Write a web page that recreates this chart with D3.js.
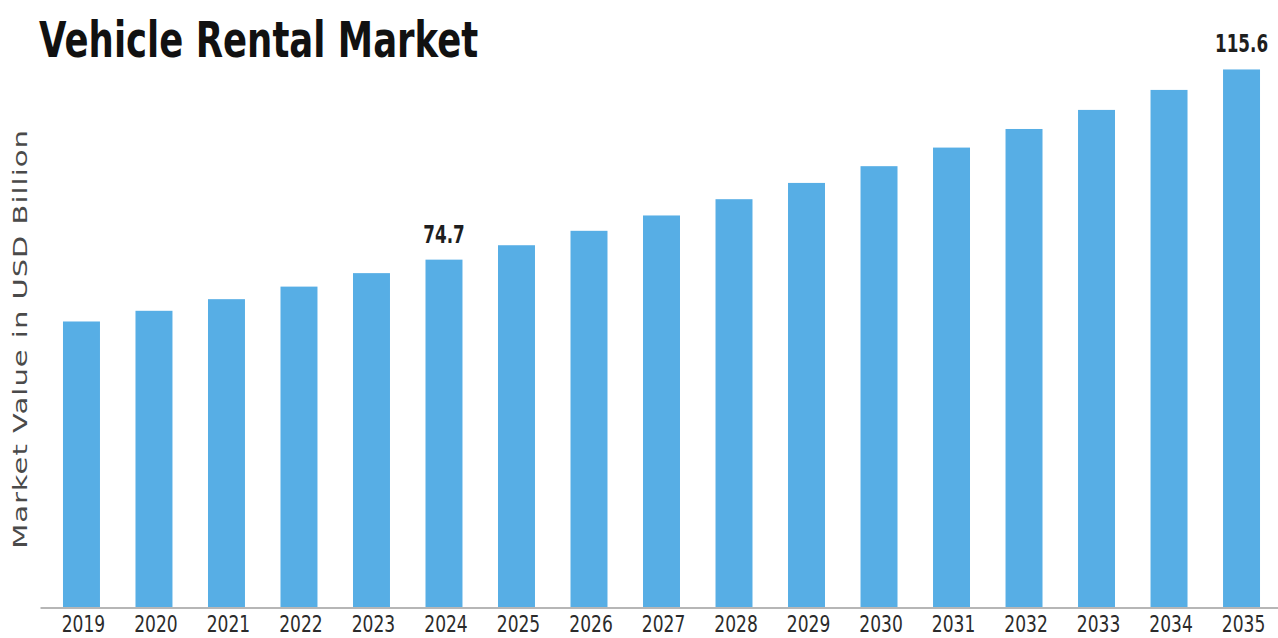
<!DOCTYPE html>
<html>
<head>
<meta charset="utf-8">
<script src="https://cdn.jsdelivr.net/npm/d3@7"></script>
<style>
  html, body { margin: 0; padding: 0; background: #ffffff; }
  svg { display: block; }
</style>
</head>
<body>
<svg id="chart" width="1278" height="638"></svg>
<script>
// Market size by year (USD billion)
const years = ["2019","2020","2021","2022","2023","2024","2025","2026","2027",
               "2028","2029","2030","2031","2032","2033","2034","2035"];
const values = [61.4, 63.7, 66.2, 68.9, 71.8, 74.7, 77.8, 80.9, 84.2,
                87.7, 91.2, 94.8, 98.8, 102.8, 106.9, 111.2, 115.6];
// Years whose value is printed above the bar
const labeledYears = ["2024", "2035"];

const titleText = "Vehicle Rental Market";
const yAxisTitle = "Market Value in USD Billion";

const data = years.map((y, i) => ({ year: y, value: values[i] }));

const svg = d3.select("#chart");
const squeeze = 0.7; // narrow glyph width used for chart text

const x = d3.scaleBand()
  .domain(years)
  .range([40, 1283])
  .paddingInner(0.49)
  .paddingOuter(0.317);

const y = d3.scaleLinear()
  .domain([0, 120])
  .range([607, 49]);

// Bars
svg.append("g")
  .selectAll("rect")
  .data(data)
  .join("rect")
  .attr("x", d => x(d.year))
  .attr("y", d => y(d.value))
  .attr("width", x.bandwidth())
  .attr("height", d => y(0) - y(d.value))
  .attr("fill", "#57aee5");

// Bottom axis with year labels
const xAxis = svg.append("g")
  .attr("transform", `translate(0,${y(0) + 0.5})`)
  .call(d3.axisBottom(x).tickSize(0).tickSizeOuter(0).tickPadding(0));

xAxis.select(".domain")
  .attr("stroke", "#6f6f6f")
  .attr("stroke-width", 1.2);

const yearScale = 0.76;
xAxis.selectAll(".tick text")
  .attr("y", 25)
  .attr("dy", 0)
  .attr("x", 2 / yearScale)
  .attr("transform", `scale(${yearScale},1)`)
  .attr("font-family", "DejaVu Sans, sans-serif")
  .attr("font-size", 22.5)
  .attr("fill", "#2b2b2b");

// Value labels
svg.append("g")
  .selectAll("text")
  .data(data.filter(d => labeledYears.includes(d.year)))
  .join("text")
  .attr("transform", d =>
    `translate(${x(d.year) + x.bandwidth() / 2},${y(d.value) - 17}) scale(${squeeze},1)`)
  .attr("text-anchor", "middle")
  .attr("font-family", "DejaVu Sans, sans-serif")
  .attr("font-weight", "bold")
  .attr("font-size", 24)
  .attr("fill", "#1e1e1e")
  .text(d => d.value.toFixed(1));

// Title
svg.append("text")
  .attr("transform", `translate(39,57) scale(0.71,1)`)
  .attr("font-family", "DejaVu Sans, sans-serif")
  .attr("font-weight", "bold")
  .attr("font-size", 50)
  .attr("fill", "#111111")
  .text(titleText);

// Y axis title
svg.append("text")
  .attr("transform", `translate(27,339) scale(${squeeze},1) rotate(-90)`)
  .attr("text-anchor", "middle")
  .attr("font-family", "DejaVu Sans, sans-serif")
  .attr("font-size", 29)
  .attr("letter-spacing", 1)
  .attr("fill", "#4a4a4a")
  .text(yAxisTitle);
</script>
</body>
</html>
